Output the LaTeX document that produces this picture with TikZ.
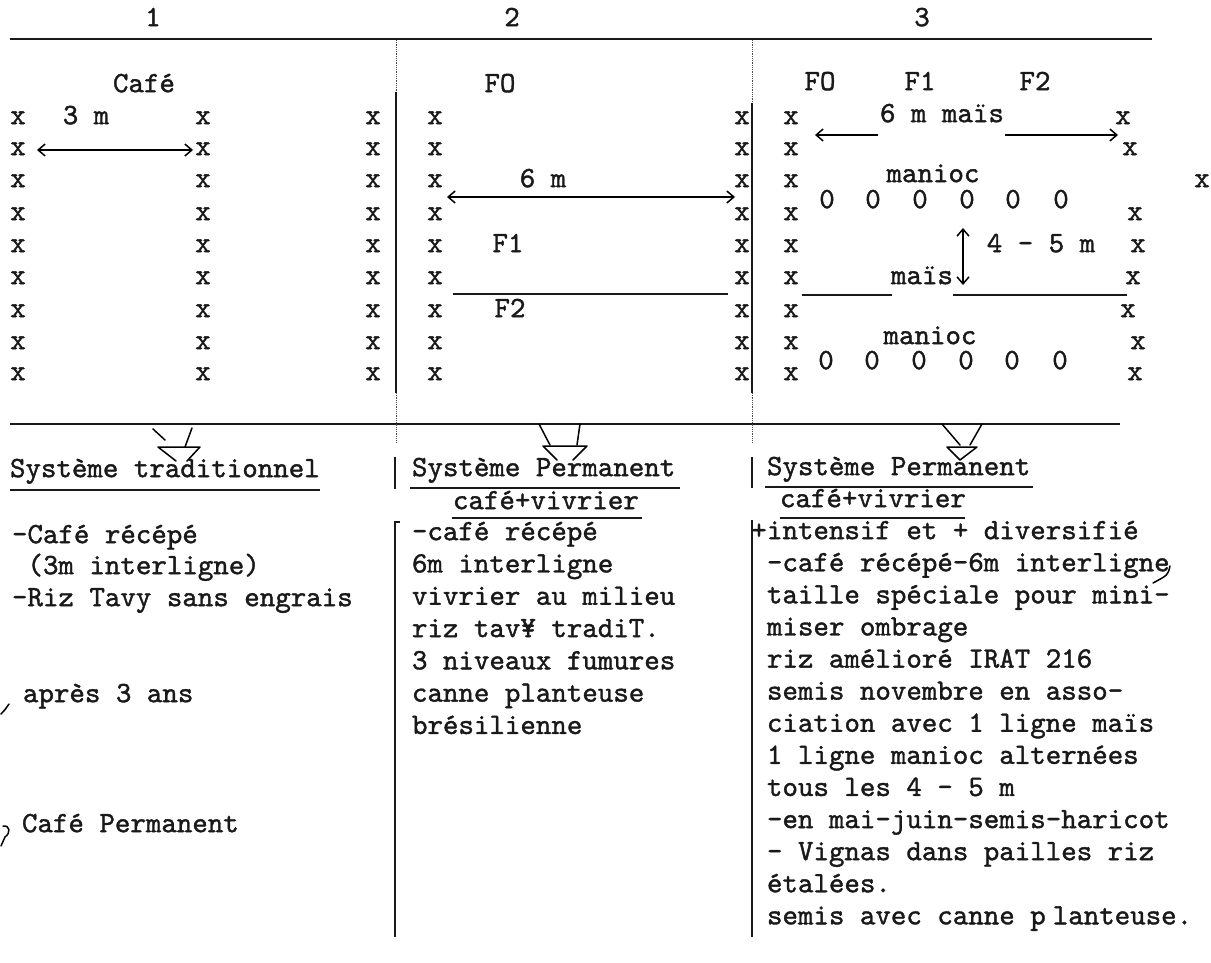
\documentclass[tikz,border=0pt]{standalone}
\usepackage{fontspec}
\newfontfamily\twfont{lmmono10-regular.otf}[FakeBold=1.3]
\usetikzlibrary{arrows.meta}
\tikzset{
  tw/.style={font=\twfont\fontsize{29.5}{32}\selectfont, inner sep=0pt, outer sep=0pt, text=black!90},
  lt/.style={tw, anchor=mid west},
  ct/.style={tw, anchor=mid},
  rule/.style={line width=1.6pt, black!90},
  thinrule/.style={line width=1.3pt, black!90},
  dotrule/.style={line width=0.8pt, densely dotted, black!70},
  hand/.style={line width=1.5pt, line cap=round, line join=round},
  dimboth/.style={line width=1.5pt, {Straight Barb[length=7pt,width=12pt]}-{Straight Barb[length=7pt,width=12pt]}},
  dimone/.style={line width=1.5pt, -{Straight Barb[length=7pt,width=12pt]}},
}
\begin{document}
\begin{tikzpicture}[x=1pt,y=-1pt]
\useasboundingbox (0,0) rectangle (1211,963);
\fill[white] (0,0) rectangle (1211,963);

% ---------- horizontal rules ----------
\coordinate (tl) at (10,39);  \coordinate (tr) at (1152,39);
\coordinate (bl) at (10,424); \coordinate (br) at (1120,424);
\draw[rule] (tl) -- (tr);
\draw[rule] (bl) -- (br);

% ---------- column numbers ----------
\node[ct] (h1) at (153,24) {1};
\node[ct] (h2) at (512,24) {2};
\node[ct] (h3) at (922,24) {3};

% ---------- dividers (upper part) ----------
\draw[dotrule] (396,40) -- (396,92);
\draw[thinrule] (396,92) -- (396,393);
\draw[dotrule] (396,393) -- (396,443);
\draw[dotrule] (752,40) -- (752,103);
\draw[thinrule] (752,103) -- (752,393);
\draw[dotrule] (752,393) -- (752,443);

% ---------- dividers (lower part) ----------
\draw[thinrule] (395,457) -- (395,489);
\draw[thinrule] (400,522) -- (395,522) -- (395,937);
\draw[thinrule] (752,457) -- (752,488);
\draw[thinrule] (752,520) -- (752,937);

% ---------- coffee rows (x) ----------
\foreach \yy [count=\i] in {122,153,185,218,250,282,315,347,378} {
  \node[ct] (a\i) at (18,\yy) {x};
  \node[ct] (b\i) at (203,\yy) {x};
  \node[ct] (c\i) at (373,\yy) {x};
  \node[ct] (d\i) at (435,\yy) {x};
  \node[ct] (e\i) at (742,\yy) {x};
  \node[ct] (f\i) at (791,\yy) {x};
}
\foreach \xx/\yy [count=\i] in {1123/122,1130/153,1202/185,1135/218,1138/250,1133/282,1128/315,1138/347,1135/378} {
  \node[ct] (g\i) at (\xx,\yy) {x};
}

% ---------- column 1 plan ----------
\node[ct] (cafe) at (144,90) {Café};
\node[ct] (trois) at (86,122) {3 m};
\coordinate (d1l) at (37,150); \coordinate (d1r) at (193,150);
\draw[dimboth] (d1l) -- (d1r);

% ---------- column 2 plan ----------
\node[ct] (fo2) at (500,90) {FO};
\node[ct] (six2) at (543,185) {6 m};
\coordinate (d2l) at (447,197); \coordinate (d2r) at (735,197);
\draw[dimboth] (d2l) -- (d2r);
\node[ct] (f12) at (508,250) {F1};
\coordinate (s2l) at (453,294); \coordinate (s2r) at (728,294);
\draw[thinrule] (s2l) -- (s2r);
\node[ct] (f22) at (510,315) {F2};

% ---------- column 3 plan ----------
\node[ct] (fo3) at (820,88) {FO};
\node[ct] (f13) at (920,88) {F1};
\node[ct] (f23) at (1035,88) {F2};
\node[lt] (six3) at (880,120) {6 m maïs};
\coordinate (a3l) at (815,135); \coordinate (a3r) at (1118,135);
\coordinate (a3a) at (878,135); \coordinate (a3b) at (1005,135);
\draw[dimone] (a3a) -- (a3l);
\draw[dimone] (a3b) -- (a3r);
\node[ct] (man1) at (933,180) {manioc};
\foreach \xx [count=\i] in {827,873,920,967,1013,1061} {
  \node[ct] (o\i) at (\xx,206) {0};
  \node[ct] (p\i) at (\xx-1,367) {0};
}
\coordinate (v3t) at (963,228); \coordinate (v3b) at (963,285);
\draw[dimboth] (v3t) -- (v3b);
\node[ct] (ecart) at (1041,250) {4 - 5 m};
\coordinate (m3a) at (802,295); \coordinate (m3b) at (892,295);
\coordinate (m3c) at (953,295); \coordinate (m3d) at (1127,295);
\draw[thinrule] (m3a) -- (m3b);
\draw[thinrule] (m3c) -- (m3d);
\node[ct] (mais) at (922,282) {maïs};
\node[ct] (man2) at (930,342) {manioc};

% ---------- funnel marks ----------
\draw[hand] (153,429) -- (165,440);
\draw[hand] (192,428) -- (185,447);
\draw[hand] (176,461) -- (158,447) -- (200,447) -- (187,461);

\draw[hand] (539,424) -- (550,445);
\draw[hand] (580,424) -- (577,445);
\draw[hand] (557,460) -- (543,446) -- (587,446) -- (573,460);

\draw[hand] (942,424) -- (960,445);
\draw[hand] (982,424) -- (970,445);
\draw[hand] (947,447) -- (977,447) -- (960,460) -- cycle;

% ---------- column 1 text ----------
\node[lt] (t1) at (10,475) {Système traditionnel};
\draw[thinrule] (10,490) -- (320,490);
\node[lt] (t1a) at (12,541) {-Café récépé};
\node[lt] (t1b) at (27.5,572) {(3m interligne)};
\node[lt] (t1c) at (12,604) {-Riz Tavy sans engrais};
\node[lt] (t1d) at (23,700) {après 3 ans};
\node[lt] (t1e) at (22,830) {Café Permanent};
\draw[hand] (1,714) .. controls (4,711) .. (9,704);
\draw[hand] (3,826) .. controls (10,825) and (11,833) .. (5,837) -- (1,846);

% ---------- column 2 text ----------
\node[lt] (t2) at (412,474) {Système Permanent};
\draw[thinrule] (410,488) -- (680,488);
\node[lt] (t2s) at (453,507) {café+vivrier};
\draw[thinrule] (452,518) -- (642,518);
\foreach \txt [count=\i] in {{-café récépé},{6m interligne},{vivrier au milieu},{riz tav¥ tradiT.},{3 niveaux fumures},{canne planteuse},{brésilienne}} {
  \node[lt] (u\i) at (412,{538+32.3*(\i-1)}) {\txt};
}

% ---------- column 3 text ----------
\node[lt] (t3) at (767,473) {Système Permanent};
\draw[thinrule] (765,487) -- (1033,487);
\node[lt] (t3s) at (780,505) {café+vivrier};
\draw[thinrule] (780,518) -- (965,518);
\node[ct] (plus) at (759,537) {+};
\foreach \txt [count=\i] in {{intensif et + diversifié},{-café récépé-6m interligne},{taille spéciale pour mini-},{miser ombrage},{riz amélioré IRAT 216},{semis novembre en asso-},{ciation avec 1 ligne maïs},{1 ligne manioc alternées},{tous les 4 - 5 m},{-en mai-juin-semis-haricot},{- Vignas dans pailles riz},{étalées.}} {
  \node[lt] (w\i) at (767,{537+32.1*(\i-1)}) {\txt};
}
\node[lt] (w13) at (767,922.2) {semis avec canne p\kern7pt lanteuse.};
\draw[hand] (1170,566) .. controls (1168,575) .. (1153,583);
\end{tikzpicture}
\end{document}
